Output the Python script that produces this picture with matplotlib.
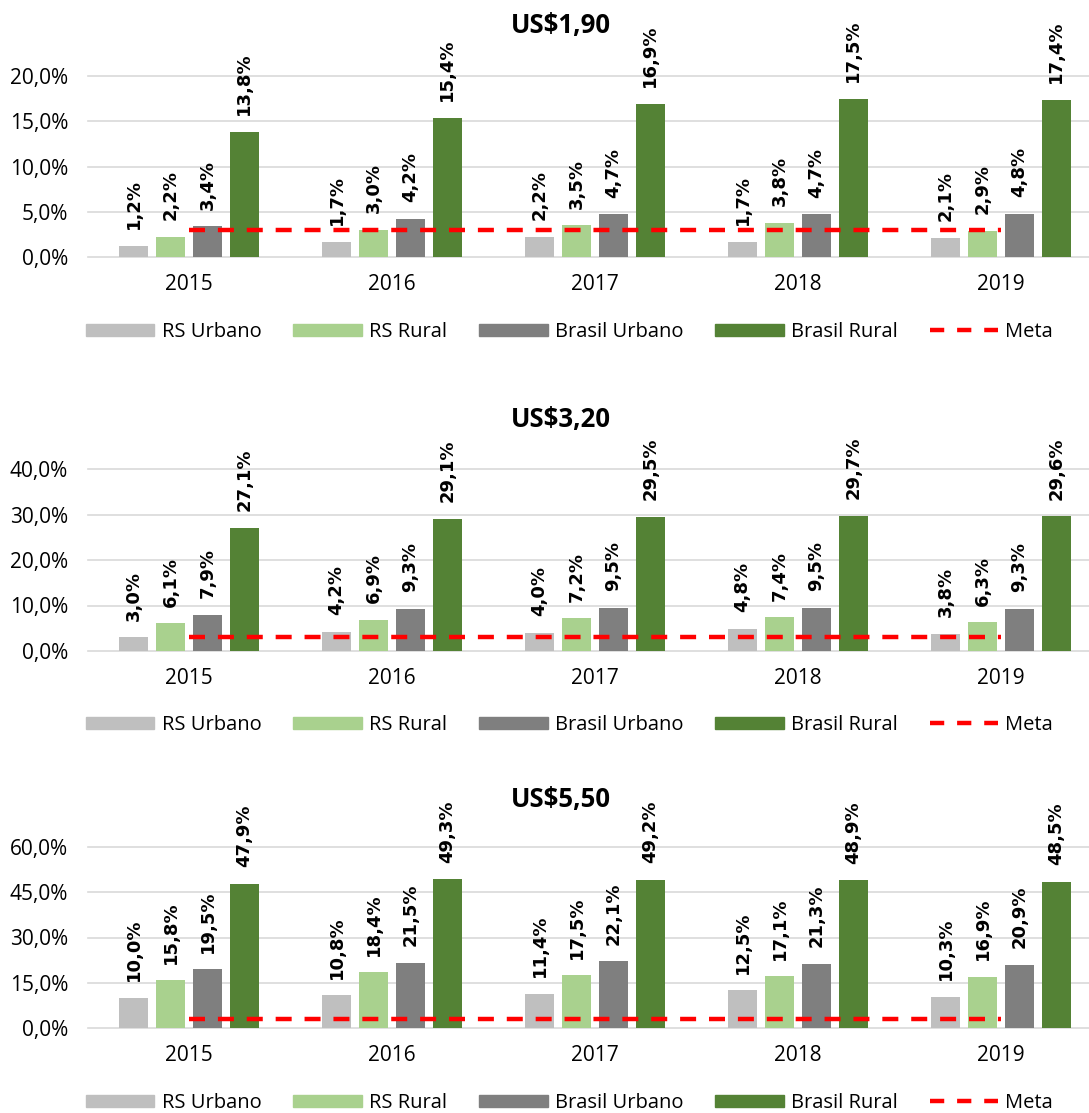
import matplotlib.pyplot as plt
from matplotlib.lines import Line2D
from matplotlib.patches import Patch
import numpy as np

years = ['2015', '2016', '2017', '2018', '2019']
series_names = ['RS Urbano', 'RS Rural', 'Brasil Urbano', 'Brasil Rural']
colors = ['#BFBFBF', '#A9D18E', '#7F7F7F', '#548235']
meta = 3.0

titles = ['US$1,90', 'US$3,20', 'US$5,50']

usd190 = [
    [1.2, 1.7, 2.2, 1.7, 2.1],
    [2.2, 3.0, 3.5, 3.8, 2.9],
    [3.4, 4.2, 4.7, 4.7, 4.8],
    [13.8, 15.4, 16.9, 17.5, 17.4],
]
usd320 = [
    [3.0, 4.2, 4.0, 4.8, 3.8],
    [6.1, 6.9, 7.2, 7.4, 6.3],
    [7.9, 9.3, 9.5, 9.5, 9.3],
    [27.1, 29.1, 29.5, 29.7, 29.6],
]
usd550 = [
    [10.0, 10.8, 11.4, 12.5, 10.3],
    [15.8, 18.4, 17.5, 17.1, 16.9],
    [19.5, 21.5, 22.1, 21.3, 20.9],
    [47.9, 49.3, 49.2, 48.9, 48.5],
]

yticks = [[0, 5, 10, 15, 20], [0, 10, 20, 30, 40], [0, 15, 30, 45, 60]]

W, H = 1089, 1113
# pixel positions: (y of 0%, y of top tick, title y, legend y)
layout = [(257, 76, 25, 332), (651, 469, 420, 725), (1028, 847, 800, 1103)]

plt.rcParams['font.family'] = ['Open Sans', 'DejaVu Sans']

fig = plt.figure(figsize=(W / 100, H / 100), dpi=100)

x = np.arange(len(years))
step = 0.182
width = 0.145
offsets = (np.arange(4) - 1.5) * step
left, right = 87.5, 1102.5
meta_dash = (0, (3.6, 2.9))


def fmt(v):
    return f'{v:.1f}'.replace('.', ',') + '%'


for data, title, ticks, (y0, ytop, ty, ly) in zip([usd190, usd320, usd550], titles, yticks, layout):
    ax = fig.add_axes([left / W, 1 - y0 / H, (right - left) / W, (y0 - ytop) / H])
    ax.set_ylim(0, ticks[-1])
    ax.set_xlim(-0.5, len(years) - 0.5)
    ax.set_yticks(ticks)
    ax.set_yticklabels([fmt(t) for t in ticks])
    ax.set_xticks(x)
    ax.set_xticklabels(years)
    ax.tick_params(axis='y', length=0, pad=14, labelsize=15)
    ax.tick_params(axis='x', length=0, pad=12, labelsize=15)
    for s in ax.spines.values():
        s.set_visible(False)
    ax.grid(axis='y', color='#D9D9D9', lw=1.2, clip_on=False)
    ax.set_axisbelow(True)

    for vals, off, c in zip(data, offsets, colors):
        ax.bar(x + off, vals, width, color=c, zorder=2)
        for xi, v in zip(x + off, vals):
            ax.annotate(fmt(v), (xi, v), xytext=(0, 12), textcoords='offset points',
                        rotation=90, ha='center', va='bottom', fontsize=13,
                        fontweight='bold', fontfamily='DejaVu Sans',
                        annotation_clip=False)
    ax.plot(x, [meta] * len(x), color='#FF0000', lw=3.2, ls=meta_dash, zorder=3)

    fig.text(561 / W, 1 - ty / H, title, ha='center', va='center', fontsize=18.5,
             fontweight='bold')

    handles = [Patch(color=c) for c in colors]
    handles.append(Line2D([], [], color='#FF0000', lw=3.2, ls=(0, (3.2, 2.9))))
    fig.legend(handles, series_names + ['Meta'], loc='center left',
               bbox_to_anchor=(86 / W, 1 - ly / H), ncol=5, frameon=False,
               fontsize=14.5, handlelength=3.4, handleheight=0.6,
               handletextpad=0.35, columnspacing=1.6, borderpad=0,
               borderaxespad=0)

fig.savefig('out.png', dpi=100)
